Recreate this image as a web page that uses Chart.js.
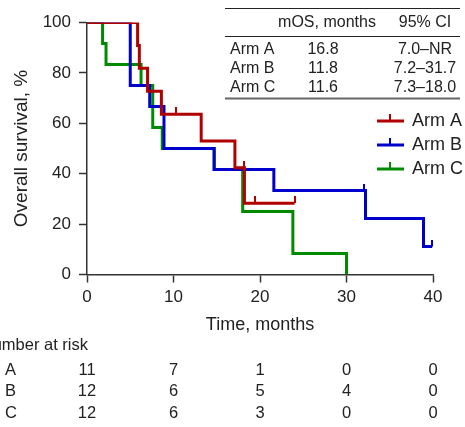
<!DOCTYPE html>
<html>
<head>
<meta charset="utf-8">
<script src="https://cdn.jsdelivr.net/npm/chart.js@4.4.1/dist/chart.umd.min.js"></script>
<style>
  html, body { margin: 0; padding: 0; background: #fff; }
  #wrap { width: 465px; height: 427px; }
</style>
</head>
<body>
<div id="wrap"><canvas id="km"></canvas></div>
<script>
const FONT = '"Liberation Sans", Arial, Helvetica, sans-serif';
const INK = '#222';

// Kaplan-Meier steps (months, % surviving)
const armATime = [0, 5.85, 6.05, 7.0, 8.6, 13.2, 17.1, 18.2, 24.0];
const armASurv = [100, 90.9, 81.8, 72.7, 63.6, 53.0, 42.4, 28.3, 28.3];
const armBTime = [0, 5.0, 7.25, 8.9, 14.7, 21.6, 32.2, 38.9, 39.9];
const armBSurv = [100, 75, 66.7, 50, 41.7, 33.3, 22.2, 11.1, 11.1];
const armCTime = [0, 1.8, 2.2, 6.25, 7.6, 8.7, 14.7, 18.0, 23.8, 30.0];
const armCSurv = [100, 91.7, 83.3, 75, 58.3, 50, 41.7, 25, 8.3, 0];

// censored patients
const censATime = [10.3, 18.1, 19.4, 24.0];
const censASurv = [63.6, 42.4, 28.3, 28.3];
const censBTime = [32.0, 39.9];
const censBSurv = [33.3, 11.1];

const xTicks = [0, 10, 20, 30, 40];
const yTicks = [0, 20, 40, 60, 80, 100];

// number at risk
const riskTimes = [0, 10, 20, 30, 40];
const riskA = [11, 7, 1, 0, 0];
const riskB = [12, 6, 5, 4, 0];
const riskC = [12, 6, 3, 0, 0];

// median OS table
const armNames = ['Arm A', 'Arm B', 'Arm C'];
const armShort = ['A', 'B', 'C'];
const mosValues = ['16.8', '11.8', '11.6'];
const ciValues = ['7.0–NR', '7.2–31.7', '7.3–18.0'];
const armColors = ['#b00000', '#0000cc', '#008a00'];

function pts(ts, ss) { return ts.map((t, i) => ({ x: t, y: ss[i] })); }

// censor mark: little tick sitting on top of the line
function tickMark(color) {
  const c = document.createElement('canvas');
  c.width = 2; c.height = 14;
  const g = c.getContext('2d');
  g.fillStyle = color;
  g.fillRect(0, 0, 2, 7);
  return c;
}

function censorSet(ts, ss, color) {
  return { data: pts(ts, ss), showLine: false, pointStyle: tickMark(color), pointRadius: 4, borderColor: color, backgroundColor: color };
}
function kmSet(label, ts, ss, color) {
  return { label, data: pts(ts, ss), stepped: 'before', borderColor: color, borderWidth: 3, pointRadius: 0, fill: false };
}

// ================== EXTRA DRAWING ==================
const extrasPlugin = {
  id: 'extras',
  afterDraw(chart) {
    const ctx = chart.ctx;
    const xs = chart.scales.x;
    ctx.save();
    ctx.fillStyle = INK;

    // mOS table
    ctx.strokeStyle = INK; ctx.lineWidth = 1;
    ctx.beginPath(); ctx.moveTo(225, 8.5); ctx.lineTo(460, 8.5); ctx.moveTo(225, 36.5); ctx.lineTo(460, 36.5); ctx.stroke();
    ctx.strokeStyle = '#666'; ctx.lineWidth = 2;
    ctx.beginPath(); ctx.moveTo(225, 98.5); ctx.lineTo(460, 98.5); ctx.stroke();
    ctx.font = '16px ' + FONT;
    ctx.textBaseline = 'middle';
    ctx.textAlign = 'center';
    ctx.fillText('mOS, months', 327, 22.5);
    ctx.fillText('95% CI', 425, 22.5);
    armNames.forEach((n, i) => {
      const y = 49.5 + i * 19;
      ctx.textAlign = 'left'; ctx.fillText(n, 230, y);
      ctx.textAlign = 'center'; ctx.fillText(mosValues[i], 323, y); ctx.fillText(ciValues[i], 425, y);
    });

    // legend
    ctx.font = '18px ' + FONT;
    armNames.forEach((n, i) => {
      const y = 121 + i * 24;
      ctx.strokeStyle = armColors[i]; ctx.lineWidth = 3;
      ctx.beginPath(); ctx.moveTo(377, y); ctx.lineTo(404, y); ctx.stroke();
      ctx.fillStyle = armColors[i]; ctx.fillRect(389, y - 7, 2, 7);
      ctx.fillStyle = INK; ctx.textAlign = 'left'; ctx.fillText(n, 412, y);
    });

    // number at risk
    ctx.font = '16.5px ' + FONT;
    ctx.textAlign = 'right';
    ctx.fillText('Number at risk', 88, 345);
    [riskA, riskB, riskC].forEach((row, i) => {
      const y = 370 + i * 21.5;
      ctx.textAlign = 'left'; ctx.fillText(armShort[i], 5, y);
      ctx.textAlign = 'center';
      row.forEach((v, j) => ctx.fillText(String(v), xs.getPixelForValue(riskTimes[j]), y));
    });
    ctx.restore();
  }
};

// ================== CHART ==================
new Chart(document.getElementById('km'), {
  type: 'line',
  plugins: [extrasPlugin],
  data: {
    datasets: [
      censorSet(censATime, censASurv, armColors[0]),
      censorSet(censBTime, censBSurv, armColors[1]),
      kmSet(armNames[0], armATime, armASurv, armColors[0]),
      kmSet(armNames[1], armBTime, armBSurv, armColors[1]),
      kmSet(armNames[2], armCTime, armCSurv, armColors[2])
    ]
  },
  options: {
    responsive: true,
    maintainAspectRatio: false,
    animation: false,
    layout: { padding: { left: 0, right: 32, top: 22.5, bottom: 90 } },
    plugins: { legend: { display: false }, tooltip: { enabled: false } },
    elements: { line: { tension: 0 } },
    scales: {
      x: {
        type: 'linear', min: 0, max: 40,
        afterFit: s => { s.height = 62.5; },
        afterBuildTicks: s => { s.ticks = xTicks.map(v => ({ value: v })); },
        ticks: { color: INK, font: { family: FONT, size: 17 }, padding: 5 },
        grid: { drawOnChartArea: false, tickLength: 8, color: '#333', tickWidth: 1.5 },
        border: { color: '#333', width: 1.5 },
        title: { display: true, text: 'Time, months', color: INK, font: { family: FONT, size: 18 }, padding: { top: 0, bottom: 1 } }
      },
      y: {
        min: 0, max: 100,
        afterFit: s => { s.width = 87; },
        afterBuildTicks: s => { s.ticks = yTicks.map(v => ({ value: v })); },
        ticks: { color: INK, font: { family: FONT, size: 17 }, padding: 8 },
        grid: { drawOnChartArea: false, tickLength: 8, color: '#333', tickWidth: 1.5 },
        border: { color: '#333', width: 1.5 },
        title: { display: true, text: 'Overall survival, %', color: INK, font: { family: FONT, size: 19 }, padding: { top: 10, bottom: 0 } }
      }
    }
  }
});
</script>
</body>
</html>
